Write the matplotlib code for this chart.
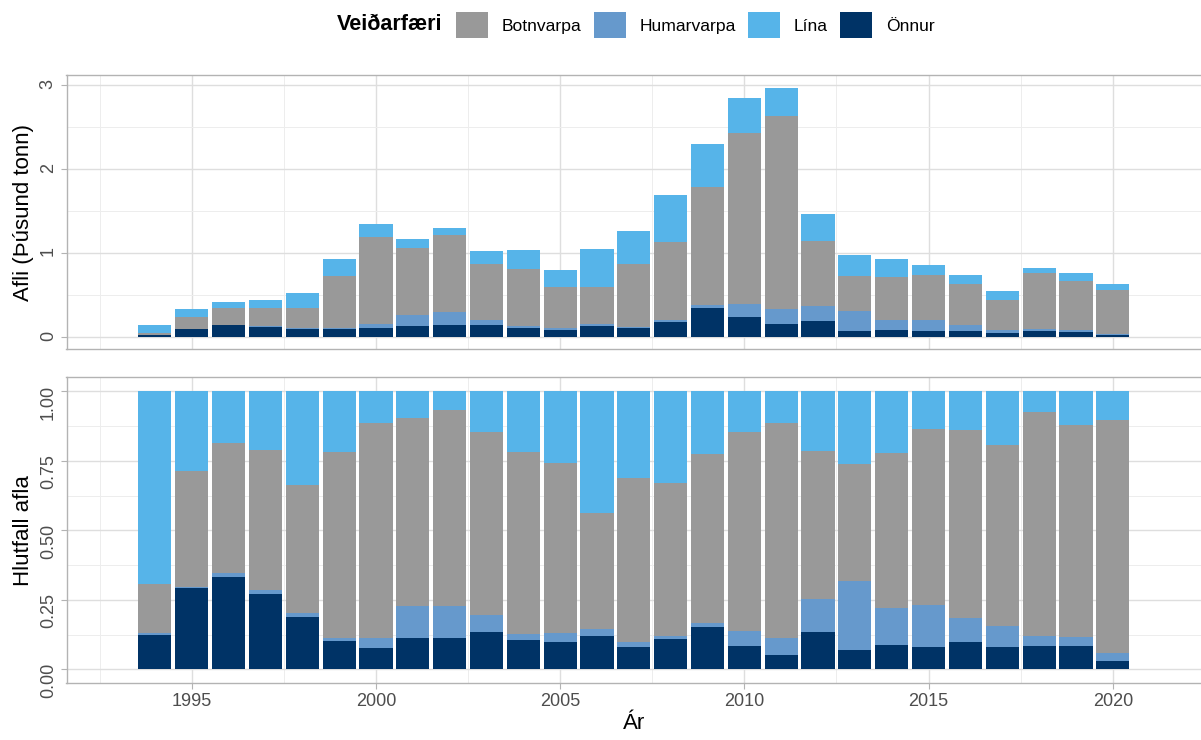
import numpy as np
import matplotlib.pyplot as plt
from matplotlib.patches import Patch
from matplotlib.ticker import MultipleLocator

plt.rcParams['font.family'] = ['Liberation Sans', 'DejaVu Sans']

# Afli eftir veiðarfærum (þúsund tonn)
years = np.arange(1994, 2021)
onnur = [0.018, 0.097, 0.139, 0.118, 0.097, 0.094, 0.102, 0.132, 0.146, 0.138,
         0.111, 0.079, 0.125, 0.103, 0.182, 0.350, 0.237, 0.157, 0.195, 0.070,
         0.081, 0.068, 0.072, 0.044, 0.069, 0.063, 0.019]
humarvarpa = [0.001, 0.001, 0.005, 0.006, 0.009, 0.010, 0.048, 0.134, 0.151, 0.061,
              0.022, 0.025, 0.027, 0.020, 0.022, 0.035, 0.154, 0.178, 0.176, 0.241,
              0.124, 0.128, 0.064, 0.042, 0.029, 0.024, 0.018]
botnvarpa = [0.026, 0.137, 0.195, 0.220, 0.238, 0.621, 1.038, 0.791, 0.915, 0.671,
             0.680, 0.485, 0.438, 0.742, 0.927, 1.403, 2.041, 2.295, 0.775, 0.413,
             0.513, 0.541, 0.496, 0.358, 0.659, 0.578, 0.523]
lina = [0.102, 0.095, 0.078, 0.092, 0.175, 0.202, 0.156, 0.111, 0.088, 0.150,
        0.225, 0.204, 0.460, 0.391, 0.557, 0.516, 0.419, 0.338, 0.317, 0.255,
        0.205, 0.115, 0.102, 0.107, 0.060, 0.092, 0.065]

gear_names = ['Botnvarpa', 'Humarvarpa', 'Lína', 'Önnur']
gear_colors = {'Botnvarpa': '#999999', 'Humarvarpa': '#6699CC',
               'Lína': '#56B4E9', 'Önnur': '#003366'}

# stacking order, bottom to top
stack = [('Önnur', onnur), ('Humarvarpa', humarvarpa),
         ('Botnvarpa', botnvarpa), ('Lína', lina)]

vals = np.array([v for _, v in stack])
total = vals.sum(axis=0)
shares = vals / total

W, H = 1201, 740
fig = plt.figure(figsize=(W / 100, H / 100), dpi=100)
ax1 = fig.add_axes([66.5 / W, (H - 349.3) / H, 1134.7 / W, 274 / H])
ax2 = fig.add_axes([66.5 / W, (H - 683.3) / H, 1134.7 / W, 306 / H])


def draw_stack(ax, data):
    bottom = np.zeros(len(years))
    for (name, _), row in zip(stack, data):
        ax.bar(years, row, bottom=bottom, width=0.9, color=gear_colors[name],
               linewidth=0)
        bottom += row


def style(ax):
    ax.set_axisbelow(True)
    ax.set_xlim(1991.6, 2022.4)
    ax.xaxis.set_major_locator(MultipleLocator(5))
    ax.xaxis.set_minor_locator(MultipleLocator(5, offset=2.5))
    ax.grid(which='major', color='#DEDEDE', linewidth=1.0)
    ax.grid(which='minor', color='#EDEDED', linewidth=0.7)
    for side in ['left', 'top', 'bottom']:
        ax.spines[side].set_color('#B3B3B3')
        ax.spines[side].set_linewidth(1.0)
    ax.spines['right'].set_visible(False)
    ax.tick_params(which='major', length=4, width=0.8, color='#B3B3B3',
                   labelsize=13, labelcolor='#4D4D4D', pad=3)
    ax.tick_params(which='minor', length=0)
    ax.tick_params(axis='y', labelrotation=90)
    ax.yaxis.set_label_coords(-0.029, 0.5)


draw_stack(ax1, vals)
style(ax1)
ax1.set_ylim(-0.148, 3.117)
ax1.yaxis.set_major_locator(MultipleLocator(1))
ax1.yaxis.set_minor_locator(MultipleLocator(1, offset=0.5))
ax1.yaxis.set_major_formatter(lambda v, p: f'{v:.0f}')
ax1.tick_params(axis='x', length=0, labelbottom=False)
ax1.set_ylabel('Afli (Þúsund tonn)', fontsize=16)

draw_stack(ax2, shares)
style(ax2)
ax2.set_ylim(-0.05, 1.05)
ax2.yaxis.set_major_locator(MultipleLocator(0.25))
ax2.yaxis.set_minor_locator(MultipleLocator(0.25, offset=0.125))
ax2.yaxis.set_major_formatter(lambda v, p: f'{v:.2f}')
ax2.set_ylabel('Hlutfall afla', fontsize=16)
ax2.set_xlabel('Ár', fontsize=16, labelpad=2)

# legend on top
fig.text(442 / W, 1 - 25 / H, 'Veiðarfæri', ha='right', va='center',
         fontsize=15.5, fontweight='bold')
handles = [Patch(facecolor=gear_colors[g], edgecolor='none', label=g)
           for g in gear_names]
fig.legend(handles=handles, loc='center left',
           bbox_to_anchor=(456 / W, 1 - 25 / H), ncol=4, frameon=False,
           fontsize=12.6, handlelength=1.83, handleheight=1.9,
           handletextpad=0.8, columnspacing=0.68, borderpad=0,
           borderaxespad=0)

fig.savefig('out.png', dpi=100)
